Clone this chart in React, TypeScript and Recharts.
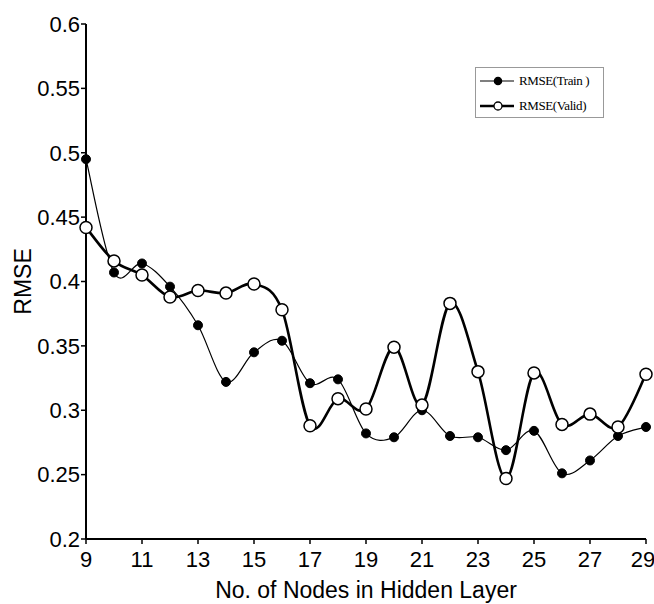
import { LineChart, Line, XAxis, YAxis, Legend } from 'recharts';

const nodes = [9, 10, 11, 12, 13, 14, 15, 16, 17, 18, 19, 20, 21, 22, 23, 24, 25, 26, 27, 28, 29];
const rmseTrain = [0.495, 0.407, 0.414, 0.396, 0.366, 0.322, 0.345, 0.354, 0.321, 0.324, 0.282, 0.279, 0.3, 0.28, 0.279, 0.269, 0.284, 0.251, 0.261, 0.28, 0.287];
const rmseValid = [0.442, 0.416, 0.405, 0.388, 0.393, 0.391, 0.398, 0.378, 0.288, 0.309, 0.301, 0.349, 0.304, 0.383, 0.33, 0.247, 0.329, 0.289, 0.297, 0.287, 0.328];
const xTicks = [9, 11, 13, 15, 17, 19, 21, 23, 25, 27, 29];
const yTicks = [0.2, 0.25, 0.3, 0.35, 0.4, 0.45, 0.5, 0.55, 0.6];

const data = nodes.map((n, i) => ({ n, train: rmseTrain[i], valid: rmseValid[i] }));

const FONT = '"Liberation Sans", Arial, sans-serif';

// catmull-rom style spline, recharts takes a d3-like curve factory
const K = 1 / 6;
const smoothCurve = (context: any) => {
  let pts: number[][] = [];
  return {
    areaStart() {},
    areaEnd() {},
    lineStart() {
      pts = [];
    },
    point(x: number, y: number) {
      pts.push([+x, +y]);
    },
    lineEnd() {
      if (!pts.length) return;
      context.moveTo(pts[0][0], pts[0][1]);
      for (let i = 0; i < pts.length - 1; i++) {
        const p0 = pts[i - 1] ?? pts[i];
        const p1 = pts[i];
        const p2 = pts[i + 1];
        const p3 = pts[i + 2] ?? p2;
        context.bezierCurveTo(
          p1[0] + (p2[0] - p0[0]) * K,
          p1[1] + (p2[1] - p0[1]) * K,
          p2[0] - (p3[0] - p1[0]) * K,
          p2[1] - (p3[1] - p1[1]) * K,
          p2[0],
          p2[1]
        );
      }
    },
  };
};

function LegendBox() {
  const row = (filled: boolean, thick: number, label: string) => (
    <div style={{ display: 'flex', alignItems: 'center', height: 25 }}>
      <svg width={42} height={14}>
        <line x1={4} y1={7} x2={38} y2={7} stroke="#000" strokeWidth={thick} />
        <circle cx={22} cy={7} r={filled ? 3.6 : 4} fill={filled ? '#000' : '#fff'} stroke="#000" strokeWidth={1.3} />
      </svg>
      <span style={{ marginLeft: 1, letterSpacing: -0.4 }}>{label}</span>
    </div>
  );
  return (
    <div
      style={{
        border: '1px solid #999',
        background: '#fff',
        width: 127,
        height: 49,
        boxSizing: 'content-box',
        fontFamily: '"Liberation Serif", "Times New Roman", serif',
        fontSize: 13,
        color: '#000',
      }}
    >
      {row(true, 1.2, 'RMSE(Train )')}
      {row(false, 2.5, 'RMSE(Valid)')}
    </div>
  );
}

export default function App() {
  return (
    <div style={{ position: 'absolute', left: 0, top: 0 }}>
      <LineChart width={654} height={604} data={data} margin={{ top: 24, right: 8, left: 0, bottom: 0 }}>
        <XAxis
          dataKey="n"
          type="number"
          domain={[9, 29]}
          ticks={xTicks}
          height={65}
          tickSize={5}
          tickMargin={7}
          axisLine={{ stroke: '#000', strokeWidth: 2 }}
          tickLine={{ stroke: '#000', strokeWidth: 1.5 }}
          tick={{ fill: '#000', fontSize: 22, fontFamily: FONT }}
          label={{
            content: ({ viewBox }: any) => (
              <text
                x={viewBox.x + viewBox.width / 2}
                y={598}
                textAnchor="middle"
                fontSize={23}
                fontFamily={FONT}
                fill="#000"
              >
                No. of Nodes in Hidden Layer
              </text>
            ),
          }}
        />
        <XAxis
          xAxisId="top"
          dataKey="n"
          type="number"
          domain={[9, 29]}
          orientation="top"
          height={0}
          tick={false}
          tickLine={false}
          axisLine={{ stroke: '#222', strokeWidth: 1.5 }}
        />
        <YAxis
          type="number"
          domain={[0.2, 0.6]}
          ticks={yTicks}
          width={86}
          tickSize={5}
          tickMargin={1}
          tickFormatter={(v: number) => String(+v.toFixed(2))}
          axisLine={{ stroke: '#000', strokeWidth: 2 }}
          tickLine={{ stroke: '#000', strokeWidth: 1.5 }}
          tick={{ fill: '#000', fontSize: 22, fontFamily: FONT }}
          label={{
            content: ({ viewBox }: any) => {
              const cy = viewBox.y + viewBox.height / 2;
              return (
                <text
                  x={23}
                  y={cy}
                  transform={`rotate(-90 23 ${cy})`}
                  textAnchor="middle"
                  dominantBaseline="central"
                  fontSize={23}
                  fontFamily={FONT}
                  fill="#000"
                >
                  RMSE
                </text>
              );
            },
          }}
        />
        <YAxis
          yAxisId="right"
          orientation="right"
          domain={[0.2, 0.6]}
          width={0}
          tick={false}
          tickLine={false}
          axisLine={{ stroke: '#222', strokeWidth: 1.5 }}
        />
        <Legend
          layout="horizontal"
          verticalAlign="middle"
          align="center"
          content={() => <LegendBox />}
          wrapperStyle={{ left: 475, top: 67, width: 'auto', height: 'auto' }}
        />
        <Line
          dataKey="train"
          name="RMSE(Train )"
          type={smoothCurve as any}
          stroke="#000"
          strokeWidth={1.2}
          dot={{ r: 4.5, fill: '#000', stroke: '#000', strokeWidth: 1 }}
          isAnimationActive={false}
        />
        <Line
          dataKey="valid"
          name="RMSE(Valid)"
          type={smoothCurve as any}
          stroke="#000"
          strokeWidth={2.6}
          dot={{ r: 6, fill: '#fff', stroke: '#000', strokeWidth: 1.5 }}
          isAnimationActive={false}
        />
      </LineChart>
    </div>
  );
}
